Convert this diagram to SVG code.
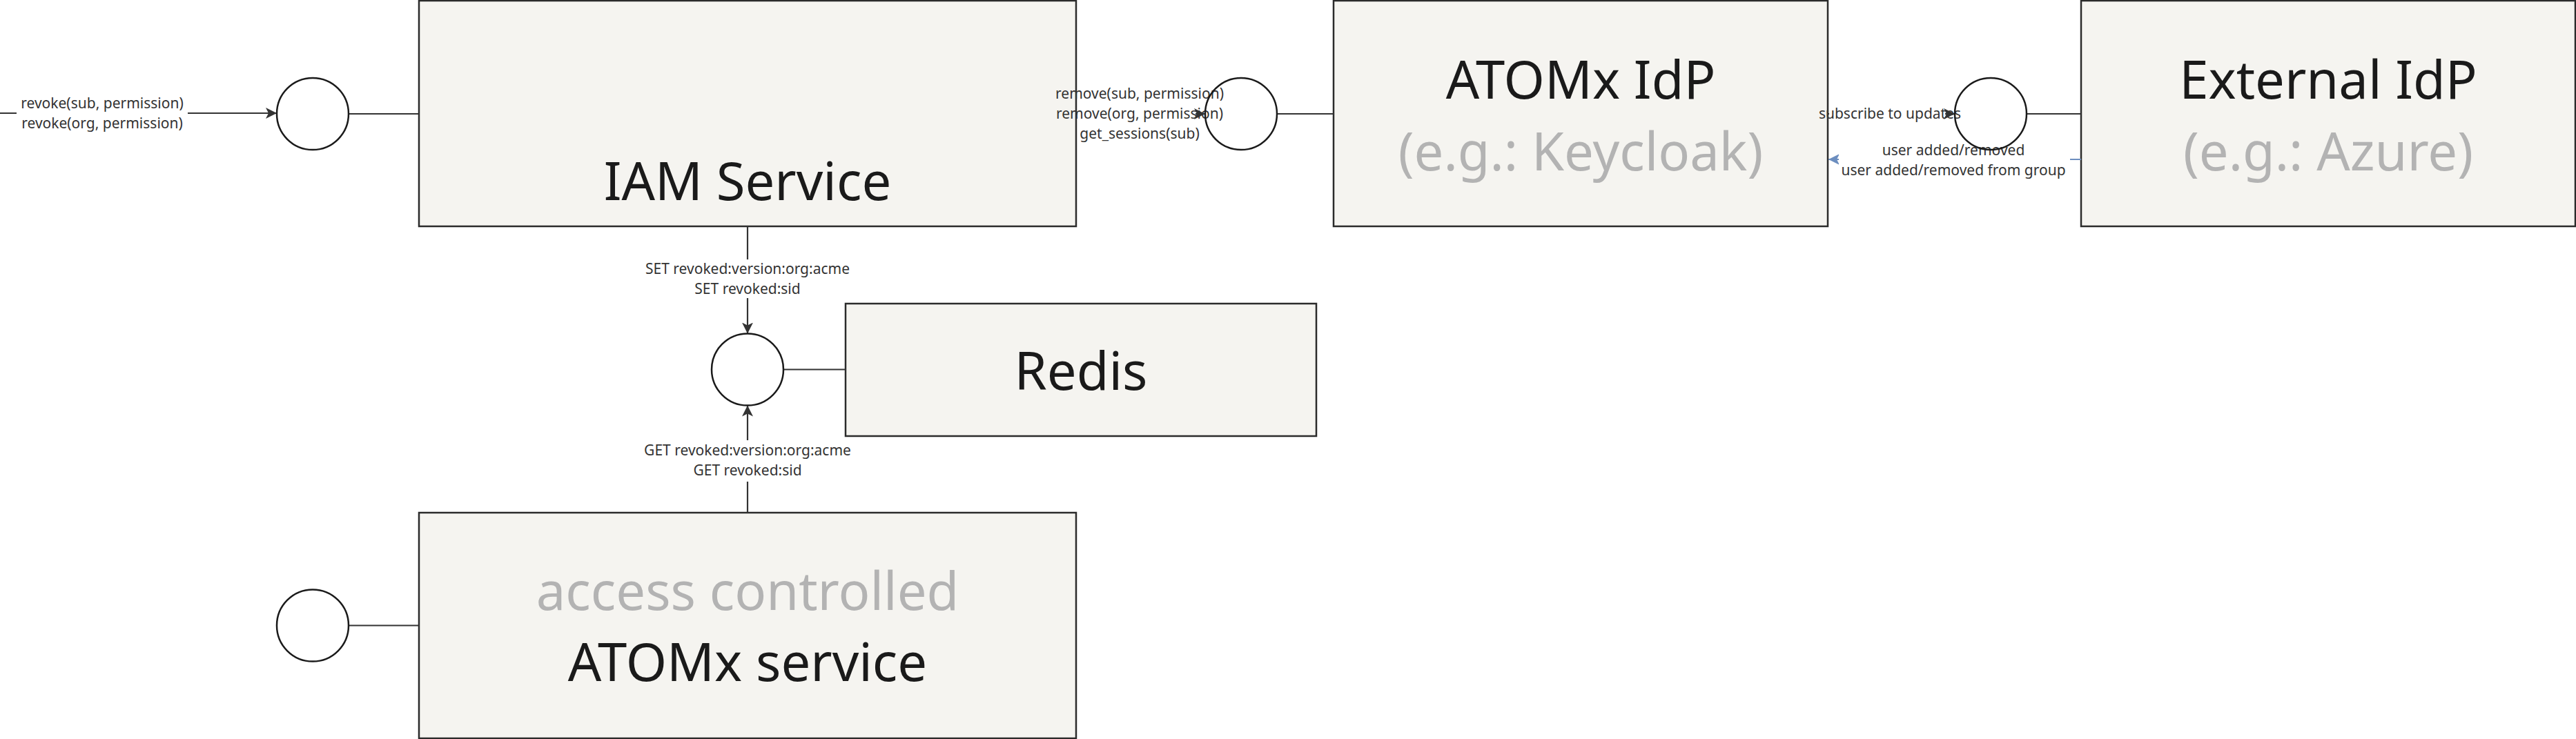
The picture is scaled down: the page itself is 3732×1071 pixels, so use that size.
<svg xmlns="http://www.w3.org/2000/svg" width="3732" height="1071" viewBox="0 0 3732 1071">
<style>
.box{fill:#f5f4f0;stroke:#2b2b2b;stroke-width:2.5}
.ring{fill:none;stroke:#1a1a1a;stroke-width:2.5}
.ln{fill:none;stroke:#333333;stroke-width:2.2}
.blue{fill:none;stroke:#6c8ebf;stroke-width:2.2}
.big{font-family:"Noto Sans","Open Sans",sans-serif;font-size:76px;fill:#1a1a1a;text-anchor:middle}
.sub{fill:#b3b3b3}
.lbl{font-family:"Noto Sans","Open Sans",sans-serif;font-size:21px;fill:#333333;text-anchor:middle}
.bg{fill:#ffffff}
</style>
<defs>
<marker id="arr" markerUnits="userSpaceOnUse" markerWidth="16" markerHeight="16" viewBox="0 0 16 16" refX="16" refY="8" orient="auto">
<path d="M0,0 L16,8 L0,16 L4,8 Z" fill="#333333"/>
</marker>
<marker id="arrBlue" markerUnits="userSpaceOnUse" markerWidth="16" markerHeight="16" viewBox="0 0 16 16" refX="16" refY="8" orient="auto">
<path d="M0,0 L16,8 L0,16 L4,8 Z" fill="#6c8ebf"/>
</marker>
</defs>
<rect width="3732" height="1071" fill="#ffffff"/>

<g id="iam-service">
<rect class="box" x="607" y="1" width="952" height="327"/>
<text class="big" x="1083" y="290">IAM Service</text>
</g>
<g id="atomx-idp">
<rect class="box" x="1932" y="1" width="716" height="327"/>
<text class="big" x="2290" y="143">ATOMx IdP</text>
<text class="big sub" x="2290" y="247">(e.g.: Keycloak)</text>
</g>
<g id="external-idp">
<rect class="box" x="3015" y="1" width="716" height="327"/>
<text class="big" x="3373" y="143">External IdP</text>
<text class="big sub" x="3373" y="247">(e.g.: Azure)</text>
</g>
<g id="redis">
<rect class="box" x="1225" y="440" width="682" height="192"/>
<text class="big" x="1566" y="565">Redis</text>
</g>
<g id="access-controlled-service">
<rect class="box" x="607" y="743" width="952" height="327"/>
<text class="big sub" x="1083" y="884">access controlled</text>
<text class="big" x="1083" y="987">ATOMx service</text>
</g>

<g id="connectors">
<path class="ln" d="M0,164 L401,164" marker-end="url(#arr)"/>
<path class="ln" d="M505,165 L607,165"/>
<path class="ln" d="M1559,165 L1746,165"/>
<path class="ln" d="M1850,165 L1932,165"/>
<path class="ln" d="M2648,165 L2832,165"/>
<path class="ln" d="M2936,165 L3015,165"/>
<path class="blue" d="M3015,231 L2649,231" marker-end="url(#arrBlue)"/>
<path class="ln" d="M1083,328 L1083,483.5" marker-end="url(#arr)"/>
<path class="ln" d="M1083,743 L1083,587.5" marker-end="url(#arr)"/>
<path class="ln" d="M1135,535.5 L1225,535.5"/>
<path class="ln" d="M505,906.5 L607,906.5"/>

<g id="labels">
<rect class="bg" x="24" y="141" width="248" height="52"/>
<text class="lbl" x="148" y="157">revoke(sub, permission)</text>
<text class="lbl" x="148" y="186">revoke(org, permission)</text>

<rect class="bg" x="1561" y="125" width="216" height="82"/>
<text class="lbl" x="1651" y="143">remove(sub, permission)</text>
<text class="lbl" x="1651" y="172">remove(org, permission)</text>
<text class="lbl" x="1651" y="201">get_sessions(sub)</text>

<rect class="bg" x="2650" y="150" width="196" height="28"/>
<text class="lbl" x="2738" y="172">subscribe to updates</text>

<rect class="bg" x="2664" y="206" width="335" height="54"/>
<text class="lbl" x="2830" y="224.5">user added/removed</text>
<text class="lbl" x="2830" y="253.5">user added/removed from group</text>

<rect class="bg" x="930" y="376" width="306" height="56"/>
<text class="lbl" x="1083" y="397">SET revoked:version:org:acme</text>
<text class="lbl" x="1083" y="426">SET revoked:sid</text>

<rect class="bg" x="930" y="638" width="306" height="60"/>
<text class="lbl" x="1083" y="660">GET revoked:version:org:acme</text>
<text class="lbl" x="1083" y="689">GET revoked:sid</text>
</g>
<path class="ln" d="M1732,165 L1746,165" marker-end="url(#arr)"/>
<path class="ln" d="M2818,165 L2832,165" marker-end="url(#arr)"/>
</g>

<g id="iface-iam"><circle class="ring" cx="453" cy="165" r="52"/></g>
<g id="iface-idp"><circle class="ring" cx="1798" cy="165" r="52"/></g>
<g id="iface-external"><circle class="ring" cx="2884" cy="165" r="52"/></g>
<g id="iface-redis"><circle class="ring" cx="1083" cy="535.5" r="52"/></g>
<g id="iface-access"><circle class="ring" cx="453" cy="906.5" r="52"/></g>
</svg>
